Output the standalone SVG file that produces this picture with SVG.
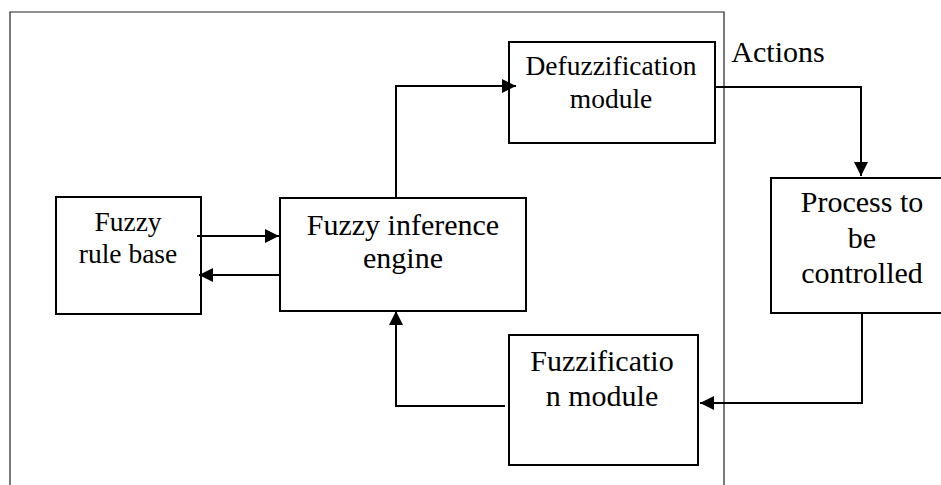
<svg xmlns="http://www.w3.org/2000/svg" width="941" height="485" viewBox="0 0 941 485">
<defs>
<marker id="ah" markerWidth="14" markerHeight="14" viewBox="0 0 14 14" refX="14" refY="7" orient="auto" markerUnits="userSpaceOnUse">
<path d="M0,0 L14,7 L0,14 Z" fill="#000"/>
</marker>
</defs>
<style>
.box{fill:#fff;stroke:#000;stroke-width:2}
.frame{fill:none;stroke:#222;stroke-width:1.2}
text{font-family:'Liberation Serif','Times New Roman',Times,serif;fill:#000;text-anchor:middle}
.conn{fill:none;stroke:#000;stroke-width:2}
</style>
<rect width="941" height="485" fill="#fff"/>
<path class="frame" d="M10,490 V12 H724 V490"/>
<g id="rule-base" font-family="Liberation Serif, serif">
<rect class="box" x="56" y="197" width="145" height="117"/>
<text x="128" y="231" font-size="27.5">Fuzzy</text>
<text x="128" y="263" font-size="27.5">rule base</text>
</g>
<g id="inference-engine" font-family="Liberation Serif, serif">
<rect class="box" x="280" y="198" width="246" height="113"/>
<text x="403" y="235" font-size="30">Fuzzy inference</text>
<text x="403" y="268" font-size="30">engine</text>
</g>
<g id="defuzzification" font-family="Liberation Serif, serif">
<rect class="box" x="509" y="42" width="206" height="101"/>
<text x="611" y="75" font-size="27.5">Defuzzification</text>
<text x="611" y="108" font-size="27.5">module</text>
</g>
<g id="process" font-family="Liberation Serif, serif">
<rect class="box" x="771" y="178" width="190" height="135"/>
<text x="862" y="212" font-size="30">Process to</text>
<text x="862" y="248" font-size="30">be</text>
<text x="862" y="283" font-size="30">controlled</text>
</g>
<g id="fuzzification" font-family="Liberation Serif, serif">
<rect class="box" x="509" y="335" width="189" height="130"/>
<text x="602" y="371" font-size="30">Fuzzificatio</text>
<text x="602" y="406" font-size="30">n module</text>
</g>
<g id="actions-label" font-family="Liberation Serif, serif">
<text x="778" y="62" font-size="30">Actions</text>
</g>
<g id="connectors">
<path class="conn" d="M197,236 H279" marker-end="url(#ah)"/>
<path class="conn" d="M280,275 H199" marker-end="url(#ah)"/>
<path class="conn" d="M396,198 V86 H516" marker-end="url(#ah)"/>
<path class="conn" d="M715,87 H861 V176" marker-end="url(#ah)"/>
<path class="conn" d="M862,313 V403 H700" marker-end="url(#ah)"/>
<path class="conn" d="M505,406 H396 V311" marker-end="url(#ah)"/>
</g>
</svg>
